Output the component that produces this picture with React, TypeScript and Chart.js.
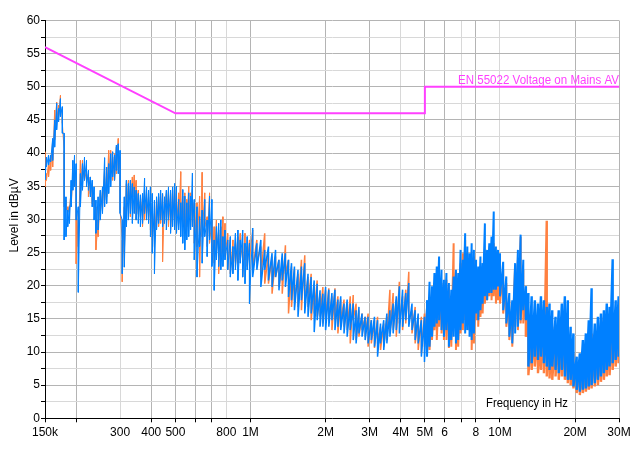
import React, { useEffect, useRef } from "react";
import { Chart, registerables } from "chart.js";

Chart.register(...registerables);

// Sample frequencies in MHz (shared by both traces)
const FREQ_MHZ = [
  0.150, 0.152, 0.155, 0.158, 0.161, 0.164, 0.167, 0.170, 0.173, 0.176, 0.179, 0.182, 0.185, 0.188, 0.191, 0.194, 0.197, 0.200,
  0.204, 0.208, 0.212, 0.216, 0.220, 0.224, 0.228, 0.232, 0.236, 0.240, 0.245, 0.250, 0.255, 0.260, 0.265, 0.270, 0.275, 0.280,
  0.285, 0.290, 0.295, 0.300, 0.306, 0.312, 0.318, 0.324, 0.330, 0.336, 0.342, 0.348, 0.355, 0.362, 0.369, 0.376, 0.383, 0.390,
  0.397, 0.404, 0.412, 0.420, 0.428, 0.436, 0.444, 0.452, 0.460, 0.469, 0.478, 0.487, 0.496,
  0.505, 0.515, 0.525, 0.535, 0.545, 0.555, 0.565, 0.575, 0.585, 0.595, 0.61, 0.625, 0.64, 0.655, 0.67, 0.685, 0.70, 0.715,
  0.73, 0.745, 0.76, 0.775, 0.79, 0.81, 0.83, 0.85, 0.87, 0.89, 0.91, 0.93, 0.95, 0.97, 0.99,
  1.02, 1.06, 1.10, 1.14, 1.18, 1.22, 1.26, 1.30, 1.34, 1.38, 1.42, 1.46, 1.50, 1.55, 1.60, 1.65, 1.70, 1.75, 1.80, 1.85,
  1.90, 1.95, 2.00,
  2.06, 2.12, 2.18, 2.24, 2.30, 2.37, 2.44, 2.51, 2.58, 2.65, 2.72, 2.80, 2.88, 2.96, 3.05, 3.14, 3.23, 3.32, 3.42, 3.52,
  3.62, 3.73, 3.84, 3.95, 4.07, 4.19, 4.31, 4.44, 4.57, 4.70, 4.84, 4.98,
  5.1, 5.22, 5.34, 5.46, 5.58, 5.7, 5.83, 5.96, 6.1, 6.24, 6.38, 6.52, 6.66, 6.8, 6.95, 7.1, 7.25, 7.4, 7.55, 7.7, 7.86,
  8.02, 8.18, 8.35, 8.52, 8.7, 8.88, 9.06, 9.25, 9.44, 9.63, 9.82,
  10.0, 10.3, 10.6, 10.9, 11.2, 11.5, 11.8, 12.1, 12.4, 12.7, 13.0, 13.4, 13.8, 14.2, 14.6, 15.0, 15.4, 15.8, 16.2, 16.7,
  17.2, 17.7, 18.2, 18.7, 19.2, 19.7, 20.3, 20.9, 21.5, 22.1, 22.7, 23.3, 24.0, 24.7, 25.4, 26.1, 26.8, 27.5, 28.3, 29.1, 29.9,
];

// Blue trace: upper and lower excursion at each sample (dBµV)
const BLUE_HI = [
  38.0, 39.4, 39.7, 39.7, 42.2, 45.0, 47.5, 46.7, 48.2, 47.0, 43.0, 33.4, 31.4, 31.9, 35.9, 38.9, 39.7, 38.4,
  31.9, 36.9, 38.4, 39.4, 38.9, 37.4, 36.4, 35.9, 34.9, 32.9, 33.4, 34.4, 34.9, 39.3, 37.9, 38.4, 39.9, 40.2,
  39.7, 41.2, 41.4, 40.4, 29.9, 33.4, 35.9, 35.4, 35.9, 35.4, 34.9, 34.4, 33.9, 33.7, 33.9, 36.2, 34.9, 34.4,
  34.9, 33.9, 32.9, 33.4, 33.9, 34.4, 33.9, 33.4, 34.4, 34.9, 34.4, 34.9, 35.4,
  35.0, 33.0, 32.5, 34.5, 33.5, 32.5, 34.0, 33.5, 37.0, 33.0, 31.9, 30.4, 31.4, 33.0, 29.9, 33.5, 33.0, 26.9,
  28.9, 29.4, 29.9, 27.4, 28.4, 26.9, 27.4, 25.9, 27.9, 28.4, 26.9, 28.4, 26.4, 27.4, 26.4,
  28.7, 26.4, 26.9, 25.4, 25.9, 24.9, 25.4, 23.9, 24.9, 24.9, 23.9, 23.4, 22.9, 22.4, 22.9, 23.4, 21.8, 21.3, 20.8, 20.3,
  19.3, 18.8, 19.8,
  19.4, 18.9, 19.4, 17.9, 18.4, 17.3, 17.9, 17.3, 17.3, 16.3, 16.8, 15.8, 15.3, 15.3, 14.8, 15.3, 14.8, 14.3, 14.8, 15.8,
  16.3, 17.3, 18.4, 19.9, 19.4, 18.9, 20.4, 17.3, 16.3, 15.8, 14.8, 15.3,
  17.8, 20.6, 19.9, 21.9, 22.9, 24.4, 22.4, 20.9, 21.9, 20.4, 19.4, 21.4, 22.4, 21.9, 25.4, 23.9, 27.9, 25.9, 24.9, 26.4, 25.4,
  23.9, 22.9, 24.4, 23.4, 29.4, 25.4, 26.4, 27.4, 31.2, 25.9, 25.4,
  24.9, 23.6, 21.4, 18.9, 17.8, 23.4, 25.4, 27.7, 23.9, 19.9, 18.9, 18.4, 17.8, 17.3, 18.4, 17.8, 16.8, 17.3, 16.3, 15.3,
  16.3, 17.3, 18.4, 17.8, 13.8, 12.8, 9.3, 9.8, 11.8, 12.8, 14.8, 19.6, 14.3, 15.3, 15.8, 16.3, 17.3, 16.8, 24.0, 17.8, 18.4,
];
const BLUE_LO = [
  36.0, 37.9, 38.2, 38.7, 38.9, 40.9, 43.5, 44.7, 45.5, 43.0, 26.9, 27.4, 28.9, 29.4, 31.9, 34.4, 34.9, 29.9,
  19.0, 31.9, 34.4, 35.9, 34.9, 34.4, 33.4, 31.9, 29.9, 27.9, 28.4, 29.9, 30.9, 31.9, 32.4, 33.9, 34.9, 36.4,
  35.9, 37.4, 36.9, 30.9, 21.8, 22.8, 28.9, 29.9, 30.9, 29.4, 30.9, 29.9, 29.4, 28.9, 29.4, 30.9, 29.9, 29.4,
  27.4, 24.9, 21.8, 28.4, 29.4, 29.9, 28.9, 29.4, 28.4, 29.9, 27.9, 28.9, 28.4,
  27.9, 28.4, 27.4, 26.4, 25.4, 26.9, 27.4, 28.4, 28.9, 23.9, 21.3, 25.9, 23.4, 27.4, 24.4, 26.9, 22.9, 19.3,
  23.9, 22.9, 22.4, 22.9, 23.9, 22.4, 21.3, 21.8, 22.4, 20.8, 23.4, 21.3, 20.3, 22.4, 17.3,
  21.3, 22.4, 19.8, 22.4, 20.8, 19.8, 21.3, 19.3, 20.8, 19.8, 18.3, 17.8, 16.3, 15.3, 17.8, 15.8, 15.3, 15.8, 13.0, 14.8,
  13.8, 13.8, 13.3,
  13.8, 14.8, 13.3, 13.8, 13.3, 12.8, 12.3, 13.3, 11.8, 11.3, 12.8, 12.3, 11.8, 11.3, 11.8, 10.8, 9.3, 11.3, 10.3, 11.3,
  12.3, 12.8, 13.3, 12.8, 13.8, 14.8, 13.8, 13.3, 11.8, 11.3, 9.3, 8.5,
  9.3, 10.8, 12.3, 13.8, 14.3, 14.8, 13.3, 12.3, 13.3, 10.8, 11.8, 12.3, 11.3, 11.8, 13.3, 14.3, 12.8, 13.3, 12.3, 11.8, 12.8,
  15.8, 14.8, 16.3, 17.3, 18.4, 17.8, 18.9, 18.9, 19.4, 19.4, 19.9,
  18.4, 16.3, 14.3, 12.3, 11.3, 12.8, 13.8, 14.8, 16.3, 14.8, 7.8, 8.3, 9.3, 8.8, 9.3, 8.3, 7.8, 7.3, 7.8, 7.3,
  6.8, 7.3, 6.3, 5.8, 5.8, 4.8, 4.3, 4.0, 4.3, 4.5, 4.8, 5.0, 5.3, 5.8, 6.3, 6.8, 7.3, 7.8, 8.3, 8.8, 9.3,
];

// Orange trace: upper and lower excursion at each sample (dBµV)
const ORANGE_HI = [
  40.2, 36.9, 38.4, 39.4, 42.0, 46.5, 47.7, 47.2, 48.7, 46.7, 40.4, 32.9, 31.9, 32.1, 34.4, 36.9, 37.9, 36.9,
  30.9, 38.9, 38.9, 38.4, 37.4, 36.9, 36.4, 35.4, 33.4, 31.9, 29.9, 33.9, 34.4, 37.9, 36.9, 40.4, 40.4, 39.4,
  39.9, 40.9, 42.2, 39.4, 26.9, 31.9, 35.4, 35.9, 34.9, 36.4, 36.7, 35.9, 34.4, 32.9, 33.4, 34.4, 33.9, 33.4,
  32.9, 31.9, 30.9, 32.9, 33.4, 33.9, 33.7, 32.9, 33.9, 34.4, 33.9, 34.4, 33.9,
  34.0, 34.0, 37.2, 33.5, 34.0, 33.0, 35.0, 34.0, 34.5, 32.5, 32.5, 33.5, 37.1, 34.0, 30.4, 34.0, 29.9, 28.9,
  29.9, 28.4, 28.9, 30.4, 29.4, 27.9, 26.9, 26.9, 26.4, 27.4, 27.9, 26.4, 27.9, 25.9, 26.9,
  28.4, 26.9, 25.9, 27.9, 24.9, 24.4, 24.4, 23.9, 23.4, 26.1, 23.9, 22.9, 22.4, 21.8, 23.9, 24.6, 21.3, 21.8, 19.8, 20.8,
  18.8, 19.8, 19.3,
  19.6, 18.4, 19.6, 18.4, 17.9, 17.9, 17.3, 18.4, 18.6, 17.3, 16.3, 15.8, 15.3, 15.8, 14.8, 14.8, 15.3, 13.8, 14.3, 15.3,
  19.4, 18.9, 17.9, 20.6, 18.4, 19.4, 22.1, 16.3, 16.8, 15.3, 15.3, 15.8,
  17.3, 17.8, 18.9, 19.9, 17.8, 19.9, 20.4, 19.9, 20.9, 19.9, 18.4, 26.4, 22.1, 19.9, 23.4, 24.9, 26.9, 24.9, 23.4, 23.0, 24.4,
  22.9, 21.9, 22.4, 21.4, 25.4, 24.4, 25.9, 25.4, 26.4, 24.9, 22.9,
  22.9, 22.4, 20.4, 17.8, 16.8, 23.1, 23.9, 27.4, 22.4, 18.4, 15.3, 13.8, 15.3, 13.8, 12.8, 15.8, 29.8, 15.3, 13.8, 12.8,
  13.8, 13.3, 13.8, 14.8, 11.8, 9.8, 8.3, 8.8, 9.3, 10.8, 11.3, 12.8, 12.3, 13.3, 14.3, 15.3, 15.1, 15.8, 15.3, 16.3, 16.8,
];
const ORANGE_LO = [
  34.9, 35.9, 36.4, 37.4, 37.9, 42.0, 45.0, 45.5, 46.0, 44.5, 31.9, 31.4, 31.1, 31.6, 31.9, 34.9, 35.4, 23.3,
  25.9, 33.4, 35.9, 35.9, 35.4, 33.4, 33.9, 32.4, 31.9, 25.4, 27.4, 30.9, 31.4, 32.9, 33.4, 36.4, 36.9, 35.9,
  35.9, 36.9, 37.4, 31.4, 20.6, 24.9, 30.9, 31.9, 30.4, 32.9, 33.4, 29.9, 30.9, 30.4, 28.9, 29.9, 30.9, 29.9,
  28.4, 26.9, 25.9, 29.4, 28.9, 29.4, 23.6, 29.9, 29.9, 28.9, 28.4, 29.9, 29.9,
  28.9, 29.4, 29.9, 28.9, 27.9, 28.9, 30.4, 28.9, 29.9, 26.4, 25.9, 21.3, 27.4, 28.9, 25.9, 26.4, 23.9, 23.4,
  24.9, 21.8, 24.4, 24.9, 24.4, 22.4, 21.8, 22.4, 22.9, 23.4, 23.9, 21.3, 23.9, 22.9, 23.9,
  22.4, 23.4, 21.3, 20.3, 20.3, 18.8, 21.3, 19.8, 18.8, 21.8, 15.8, 16.8, 17.8, 16.8, 16.3, 17.3, 16.8, 14.8, 15.8, 15.3,
  15.3, 14.3, 14.8,
  14.8, 13.3, 14.8, 12.8, 14.3, 13.8, 13.3, 11.3, 14.8, 11.8, 12.3, 13.3, 12.3, 10.8, 11.3, 10.6, 11.3, 10.3, 10.8, 11.8,
  12.8, 13.3, 12.3, 14.3, 13.3, 14.3, 14.8, 12.8, 11.3, 10.3, 9.8, 10.8,
  9.8, 10.3, 11.8, 13.3, 11.8, 13.8, 12.8, 11.8, 11.8, 10.6, 10.8, 14.8, 10.3, 10.8, 12.8, 13.3, 14.8, 14.3, 13.3, 10.3, 11.3,
  14.8, 13.8, 15.3, 15.8, 17.3, 17.8, 18.4, 17.8, 18.4, 17.3, 17.8,
  17.3, 15.8, 13.8, 11.8, 10.8, 13.8, 13.3, 14.3, 14.3, 12.3, 6.5, 7.3, 7.8, 6.8, 7.3, 6.8, 6.3, 6.0, 5.8, 6.3,
  5.8, 6.3, 5.8, 5.3, 5.0, 4.5, 3.8, 3.5, 3.8, 4.0, 4.3, 4.5, 4.8, 5.0, 5.5, 5.8, 6.3, 6.5, 7.3, 7.8, 8.3,
];

// EN 55022 average limit line
const LIMIT_FREQ_MHZ = [0.15, 0.5, 5, 5, 30];
const LIMIT_DB = [56, 46, 46, 50, 50];

// Axis ticks
const X_TICKS_MHZ = [0.15, 0.2, 0.3, 0.4, 0.5, 0.6, 0.7, 0.8, 1, 2, 3, 4, 5, 6, 7, 8, 10, 20, 30];
const X_TICK_LABELS = ["150k", "", "300", "400", "500", "", "", "800", "1M", "2M", "3M", "4M", "5M", "6", "", "8", "10M", "20M", "30M"];
const X_LIGHT_MHZ = [0.3, 0.8, 4, 7, 10];
const X_NO_TICK_MHZ = [0.3, 0.8];

const Y_MIN = 0;
const Y_MAX = 60;
const Y_STEP = 2.5;

const LIMIT_LABEL = "EN 55022 Voltage on Mains AV";
const X_TITLE = "Frequency in Hz";
const Y_TITLE = "Level in dBµV";

const FONT = "'Liberation Sans', Arial, sans-serif";

function zigzag(hi: number[], lo: number[]) {
  const pts: { x: number; y: number }[] = [];
  FREQ_MHZ.forEach((f, i) => {
    pts.push({ x: f * 1e6, y: hi[i] });
    pts.push({ x: f * 1e6, y: lo[i] });
  });
  return pts;
}

// stroke width grows with trace density (denser sweep at higher frequency)
const traceWidth = (c: any) => {
  const f = c.p0.parsed.x;
  if (f >= 12.5e6) return 2.4;
  if (f >= 5e6) return 2.0;
  if (f >= 1e6) return 1.5;
  return 1.0;
};

const near = (arr: number[], v: number) => arr.some((a) => Math.abs(a * 1e6 - v) < 1);

const textPlugin = {
  id: "emiTexts",
  afterDatasetsDraw(chart: any) {
    const { ctx, chartArea, scales } = chart;
    ctx.save();
    ctx.font = `12px ${FONT}`;
    ctx.fillStyle = "#ff40ff";
    ctx.textAlign = "right";
    ctx.textBaseline = "alphabetic";
    ctx.fillText(LIMIT_LABEL, chartArea.right, scales.y.getPixelForValue(50) - 3, 161);
    const bx = chartArea.right - 143;
    ctx.fillStyle = "#ffffff";
    ctx.fillRect(bx, chartArea.bottom - 24, 96, 23);
    ctx.fillStyle = "#000000";
    ctx.textAlign = "left";
    ctx.fillText(X_TITLE, bx + 10, chartArea.bottom - 11, 82);
    ctx.translate(15, (chartArea.top + chartArea.bottom) / 2 - 4);
    ctx.rotate(-Math.PI / 2);
    ctx.textAlign = "center";
    ctx.textBaseline = "middle";
    ctx.fillText(Y_TITLE, 0, 0);
    ctx.restore();
  },
};

export default function App() {
  const ref = useRef<HTMLCanvasElement | null>(null);

  useEffect(() => {
    if (!ref.current) return;
    const chart = new Chart(ref.current, {
      type: "line",
      data: {
        datasets: [
          {
            label: "limit",
            data: LIMIT_FREQ_MHZ.map((f, i) => ({ x: f * 1e6, y: LIMIT_DB[i] })),
            borderColor: "#ff40ff",
            borderWidth: 2,
            pointRadius: 0,
            order: 0,
          },
          {
            label: "blue",
            data: zigzag(BLUE_HI, BLUE_LO),
            borderColor: "#0080ff",
            borderWidth: 1,
            borderJoinStyle: "bevel",
            segment: { borderWidth: traceWidth },
            pointRadius: 0,
            order: 1,
          },
          {
            label: "orange",
            data: zigzag(ORANGE_HI, ORANGE_LO),
            borderColor: "#ff8040",
            borderWidth: 1,
            borderJoinStyle: "bevel",
            segment: { borderWidth: traceWidth },
            pointRadius: 0,
            order: 2,
          },
        ],
      },
      options: {
        animation: false,
        responsive: false,
        devicePixelRatio: 1,
        layout: { padding: { left: 0, right: 24, top: 20.5, bottom: 0 } },
        plugins: { legend: { display: false }, tooltip: { enabled: false } },
        elements: { line: { tension: 0 } },
        scales: {
          x: {
            type: "logarithmic",
            min: 150000,
            max: 30000000,
            afterBuildTicks: (scale: any) => {
              scale.ticks = X_TICKS_MHZ.map((v) => ({ value: v * 1e6 }));
            },
            afterFit: (scale: any) => {
              scale.height = 37.7;
            },
            ticks: {
              autoSkip: false,
              maxRotation: 0,
              minRotation: 0,
              padding: 3,
              color: "#000",
              font: { family: FONT, size: 12 },
              callback: (_v: any, i: number) => X_TICK_LABELS[i],
            },
            grid: {
              color: (c: any) => (c.tick && near(X_LIGHT_MHZ, c.tick.value) ? "#d8d8d8" : "#b4b4b4"),
              tickColor: (c: any) => (c.tick && near(X_NO_TICK_MHZ, c.tick.value) ? "rgba(0,0,0,0)" : "#000"),
              tickLength: 4,
              lineWidth: 1,
            },
            border: { color: "#000", width: 1 },
          },
          y: {
            type: "linear",
            min: Y_MIN,
            max: Y_MAX,
            afterFit: (scale: any) => {
              scale.width = 45;
            },
            ticks: {
              stepSize: Y_STEP,
              autoSkip: false,
              padding: 1,
              color: "#000",
              font: { family: FONT, size: 12 },
              callback: (v: any) => (Number(v) % 5 === 0 ? String(v) : ""),
            },
            grid: {
              color: (c: any) => (c.tick && c.tick.value % 5 === 0 ? "#b4b4b4" : "#d8d8d8"),
              tickColor: "#000",
              tickLength: 4,
              lineWidth: 1,
            },
            border: { color: "#000", width: 1 },
          },
        },
      },
      plugins: [textPlugin],
    } as any);
    return () => chart.destroy();
  }, []);

  return (
    <div style={{ position: "absolute", left: 0, top: 0, width: 643, height: 456, background: "#fff" }}>
      <canvas ref={ref} width={643} height={456} style={{ display: "block" }} />
    </div>
  );
}
